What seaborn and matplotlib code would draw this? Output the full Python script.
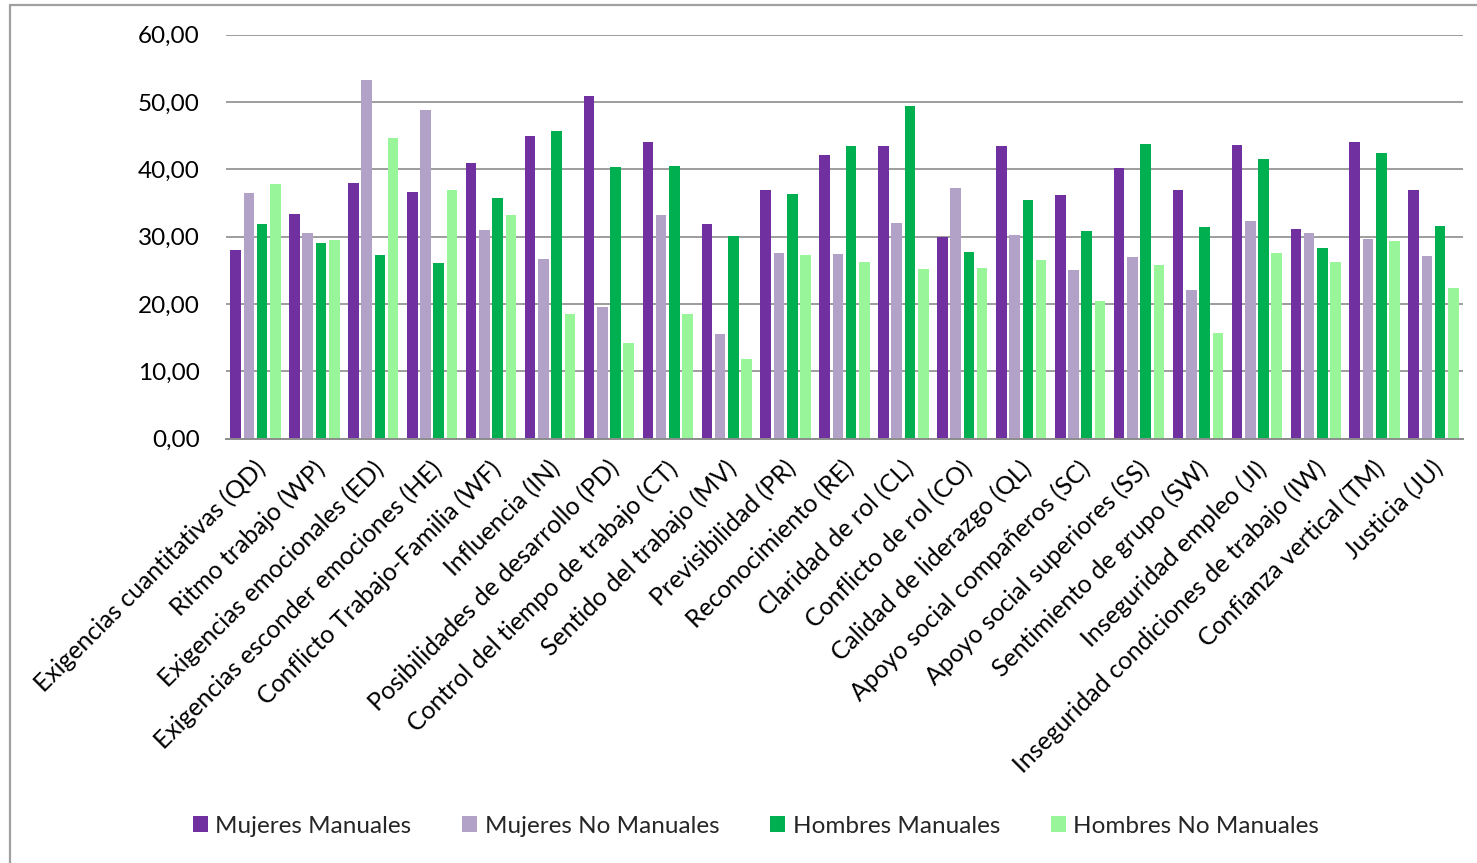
import matplotlib
matplotlib.use("Agg")
import matplotlib.pyplot as plt
import matplotlib.ticker as mticker
from matplotlib.lines import Line2D
from matplotlib.patches import Patch
import matplotlib.transforms as mtransforms
import numpy as np
import pandas as pd
import seaborn as sns

# Dimensiones psicosociales (CoPsoQ) y puntuaciones medias por grupo
categorias = [
    "Exigencias cuantitativas (QD)",
    "Ritmo trabajo (WP)",
    "Exigencias emocionales (ED)",
    "Exigencias esconder emociones (HE)",
    "Conflicto Trabajo-Familia (WF)",
    "Influencia (IN)",
    "Posibilidades de desarrollo (PD)",
    "Control del tiempo de trabajo (CT)",
    "Sentido del trabajo (MV)",
    "Previsibilidad (PR)",
    "Reconocimiento (RE)",
    "Claridad de rol (CL)",
    "Conflicto de rol (CO)",
    "Calidad de liderazgo (QL)",
    "Apoyo social compañeros (SC)",
    "Apoyo social superiores (SS)",
    "Sentimiento de grupo (SW)",
    "Inseguridad empleo (JI)",
    "Inseguridad condiciones de trabajo (IW)",
    "Confianza vertical (TM)",
    "Justicia (JU)",
]

mujeres_manuales = [28.0, 33.4, 38.0, 36.7, 41.0, 45.0, 50.9, 44.0, 31.9, 37.0, 42.1,
                    43.4, 30.0, 43.5, 36.2, 40.2, 36.9, 43.6, 31.1, 44.0, 37.0]
mujeres_no_manuales = [36.5, 30.5, 53.3, 48.8, 31.0, 26.7, 19.6, 33.2, 15.5, 27.6, 27.5,
                       32.1, 37.3, 30.3, 25.1, 27.0, 22.1, 32.3, 30.5, 29.6, 27.1]
hombres_manuales = [31.9, 29.1, 27.3, 26.1, 35.7, 45.7, 40.4, 40.5, 30.1, 36.4, 43.4,
                    49.4, 27.7, 35.4, 30.9, 43.7, 31.5, 41.6, 28.3, 42.4, 31.6]
hombres_no_manuales = [37.9, 29.5, 44.7, 37.0, 33.2, 18.5, 14.2, 18.5, 11.9, 27.3, 26.2,
                       25.2, 25.3, 26.6, 20.4, 25.8, 15.7, 27.6, 26.2, 29.3, 22.4]

grupos = ["Mujeres Manuales", "Mujeres No Manuales", "Hombres Manuales", "Hombres No Manuales"]
colores = ["#7030A0", "#B3A2C7", "#00B050", "#99F59A"]

df = pd.DataFrame({
    "categoria": categorias * 4,
    "grupo": [g for g in grupos for _ in categorias],
    "valor": mujeres_manuales + mujeres_no_manuales + hombres_manuales + hombres_no_manuales,
})

sns.set_theme(style="white")
plt.rcParams["font.family"] = ["Lato", "DejaVu Sans"]

W, H = 1477, 863
fig = plt.figure(figsize=(W / 100, H / 100), dpi=100)
fig.patch.set_facecolor("white")

left, right, top, bottom = 226, 1463, 34.7, 438.7
ax = fig.add_axes([left / W, 1 - bottom / H, (right - left) / W, (bottom - top) / H])

sns.barplot(
    data=df, x="categoria", y="valor", hue="grupo",
    hue_order=grupos, order=categorias, palette=colores,
    width=0.9, gap=0.2, linewidth=0, saturation=1,
    legend=False, ax=ax,
)

ax.set_ylim(0, 60)
ax.set_xlim(-0.5, len(categorias) - 0.5)
ax.yaxis.set_major_locator(mticker.MultipleLocator(10))
ax.yaxis.set_major_formatter(mticker.FuncFormatter(lambda v, p: f"{v:.2f}".replace(".", ",")))
ax.grid(axis="y", color="#8C8C8C", linewidth=1.2)
ax.set_axisbelow(True)
for s in ["left", "right", "top"]:
    ax.spines[s].set_visible(False)
ax.spines["bottom"].set_color("#8C8C8C")
ax.spines["bottom"].set_linewidth(1.4)
ax.set_xlabel("")
ax.set_ylabel("")
ax.tick_params(axis="y", length=0, pad=19, labelsize=17.5, labelcolor="#000000")
ax.tick_params(axis="x", length=0, pad=13)

offset = mtransforms.ScaledTranslation(-2 / 100, 0, fig.dpi_scale_trans)
ax.set_xticks(range(len(categorias)))
ax.set_xticklabels(categorias, rotation=45, ha="right", rotation_mode="anchor",
                   fontsize=17.8, color="#000000")
for lab in ax.get_xticklabels():
    lab.set_transform(lab.get_transform() + offset)

handles = [Patch(facecolor=c, edgecolor="none") for c in colores]
fig.legend(handles, grupos, loc="center", bbox_to_anchor=(756 / W, 1 - 826 / H),
           ncol=4, frameon=False, fontsize=17.5, handlelength=0.62, handleheight=0.62,
           handletextpad=0.3, columnspacing=2.1)

# marco del gráfico
fig.add_artist(Line2D([9.5 / W, 9.5 / W], [0, 1 - 5.5 / H], transform=fig.transFigure,
                      color="#A0A0A0", linewidth=1.6))
fig.add_artist(Line2D([9.5 / W, 1], [1 - 5.5 / H, 1 - 5.5 / H], transform=fig.transFigure,
                      color="#A0A0A0", linewidth=1.6))

fig.savefig("out.png", dpi=100)
